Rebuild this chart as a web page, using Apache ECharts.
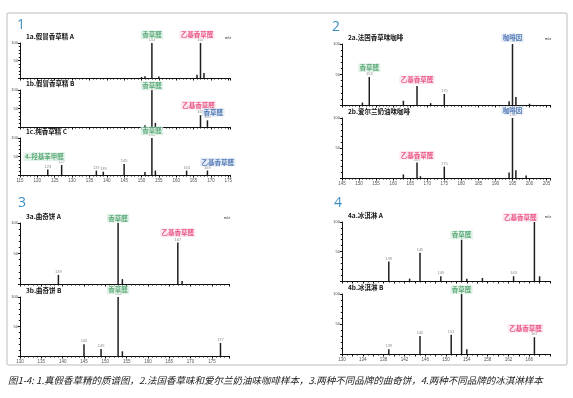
<!DOCTYPE html>
<html>
<head>
<meta charset="utf-8">
<script src="https://cdn.jsdelivr.net/npm/echarts@6/dist/echarts.min.js"></script>
<style>
  html, body { margin: 0; background: #fff; }
  #main { width: 573px; height: 398px; }
</style>
</head>
<body>
<div id="main"></div>
<script>
  // 峰：[m/z, 相对丰度 %]
  var spec1a = [[150, 3], [151, 5], [153, 100], [155, 4], [166, 9], [167, 100], [168, 14]];
  var spec1b = [[151, 5], [153, 100], [154, 11], [167, 32], [169, 18]];
  var spec1c = [[123, 15], [127, 27], [137, 12], [139, 9], [145, 30], [151, 8], [153, 100], [154, 12], [163, 12], [169, 12]];
  var spec2a = [[151, 4], [153, 46], [163, 7], [167, 31], [171, 3], [175, 18], [194, 6], [195, 100], [196, 13], [200, 2]];
  var spec2b = [[163, 6], [167, 26], [168, 3], [175, 19], [194, 9], [195, 100], [196, 13], [199, 4]];
  var spec3a = [[139, 15], [153, 100], [154, 8], [167, 68], [168, 5]];
  var spec3b = [[145, 20], [149, 12], [153, 100], [154, 8], [177, 22]];
  var spec4a = [[139, 33], [143, 4], [145, 48], [149, 8], [153, 70], [154, 4], [157, 5], [163, 8], [167, 100], [168, 8]];
  var spec4b = [[139, 8], [145, 30], [151, 32], [153, 100], [154, 8], [167, 28]];

  // 标出 m/z 数值的峰
  var tags1a = [153, 167];
  var tags1b = [153, 167, 169];
  var tags1c = [123, 127, 137, 139, 145, 153, 163, 169];
  var tags2a = [153, 167, 175, 195];
  var tags2b = [167, 175, 195];
  var tags3a = [139, 153, 167];
  var tags3b = [145, 149, 153, 177];
  var tags4a = [139, 145, 149, 153, 163, 167];
  var tags4b = [139, 145, 151, 153, 167];

  // 化合物标注：[名称, m/z, 高度, 颜色类别]
  var notes1a = [['香草醛', 153, 123, 'g'], ['乙基香草醛', 166, 123, 'p']];
  var notes1b = [['香草醛', 153, 111, 'g'], ['乙基香草醛', 166.4, 59, 'p'], ['香草醛', 170.7, 40, 'b']];
  var notes1c = [['香草醛', 153, 119, 'g'], ['4-羟基苯甲醛', 122, 49, 'g'], ['乙基香草醛', 172, 35, 'b']];
  var notes2a = [['咖啡因', 195, 110, 'b'], ['香草醛', 153, 61, 'g'], ['乙基香草醛', 167, 41, 'p']];
  var notes2b = [['咖啡因', 195, 113, 'b'], ['乙基香草醛', 167, 38, 'p']];
  var notes3a = [['香草醛', 153, 108, 'g'], ['乙基香草醛', 167, 84, 'p']];
  var notes3b = [['香草醛', 153, 112, 'g']];
  var notes4a = [['乙基香草醛', 164.3, 108, 'p'], ['香草醛', 153, 78, 'g']];
  var notes4b = [['香草醛', 153, 107, 'g'], ['乙基香草醛', 165.3, 43, 'p']];

  var titles = ['1a.假冒香草精 A', '1b.假冒香草精 B', '1c.纯香草精 C', '2a.法国香草味咖啡', '2b.爱尔兰奶油味咖啡',
                '3a.曲奇饼 A', '3b.曲奇饼 B', '4a.冰淇淋 A', '4b.冰淇淋 B'];
  var caption = '图1-4: 1.真假香草精的质谱图，2.法国香草味和爱尔兰奶油味咖啡样本，3.两种不同品牌的曲奇饼，4.两种不同品牌的冰淇淋样本';

  var noteColors = {
    g: ['#3b9a5e', '#dcefe2'],
    p: ['#e6336c', '#fbe4eb'],
    b: ['#2f5fa6', '#dfe7f4']
  };

  // 子图布局：left, top, width, height, x 范围
  var plots = [
    {spec: spec1a, tags: tags1a, notes: notes1a, box: [20, 43, 210, 35], x: [115, 175.5, 5], lab: false, first: true},
    {spec: spec1b, tags: tags1b, notes: notes1b, box: [20, 90, 210, 37], x: [115, 175.5, 5], lab: false},
    {spec: spec1c, tags: tags1c, notes: notes1c, box: [20, 138, 210, 37], x: [115, 175.5, 5], lab: true},
    {spec: spec2a, tags: tags2a, notes: notes2a, box: [342, 44, 208, 61], x: [145, 206, 5], lab: false, first: true},
    {spec: spec2b, tags: tags2b, notes: notes2b, box: [342, 118, 208, 60], x: [145, 206, 5], lab: true},
    {spec: spec3a, tags: tags3a, notes: notes3a, box: [20, 223, 209, 61], x: [130, 179, 5], lab: false, first: true},
    {spec: spec3b, tags: tags3b, notes: notes3b, box: [20, 297, 209, 59], x: [130, 179, 5], lab: true},
    {spec: spec4a, tags: tags4a, notes: notes4a, box: [342, 222, 208, 59], x: [130, 170, 2], lab: false, first: true},
    {spec: spec4b, tags: tags4b, notes: notes4b, box: [342, 294, 208, 60], x: [130, 170, 2], lab: true}
  ];

  var myChart = echarts.init(document.getElementById('main'));
  var font = '"Noto Sans CJK SC", "Noto Sans", sans-serif';

  var grid = [], xAxis = [], yAxis = [], series = [];
  var graphic = [
    {type: 'rect', shape: {x: 7, y: 13, width: 560, height: 352, r: 2},
     style: {fill: 'none', stroke: '#d2d2d2', lineWidth: 1.5}},
    {type: 'text', left: 8, top: 376,
     style: {text: caption, font: 'italic 9.5px ' + font, fill: '#222'}}
  ];
  var panelNums = [['1', 17, 18], ['2', 332, 20], ['3', 18, 196], ['4', 334, 196]];
  panelNums.forEach(function (p) {
    graphic.push({type: 'text', x: p[1], y: p[2],
      style: {text: p[0], font: '14px "Open Sans", sans-serif', fill: '#3d8fc6'}});
  });

  plots.forEach(function (p, i) {
    var b = p.box;
    grid.push({left: b[0], top: b[1], width: b[2], height: b[3], containLabel: false});
    var step = p.x[2];
    xAxis.push({
      type: 'value', gridIndex: i, min: p.x[0], max: p.x[1], interval: step,
      axisLine: {lineStyle: {color: '#111', width: 1}},
      axisTick: {show: true, length: 2.5, lineStyle: {color: '#111'}},
      minorTick: {show: true, splitNumber: step, length: 1.5, lineStyle: {color: '#111'}},
      splitLine: {show: false},
      axisLabel: {
        show: p.lab, fontSize: 4.5, color: '#555', margin: 3, showMaxLabel: false,
        formatter: function (v) {
          if (step === 2 && (v - p.x[0]) % 4 !== 0) return '';
          return v;
        }
      }
    });
    yAxis.push({
      type: 'value', gridIndex: i, min: 0, max: 100, interval: 50,
      axisLine: {show: true, lineStyle: {color: '#111', width: 1}},
      axisTick: {show: true, length: 2, lineStyle: {color: '#111'}},
      minorTick: {show: true, splitNumber: 5, length: 1.2, lineStyle: {color: '#111'}},
      splitLine: {show: false},
      axisLabel: {fontSize: 4, color: '#444', margin: 2, showMinLabel: false}
    });
    series.push({
      type: 'bar', xAxisIndex: i, yAxisIndex: i, data: p.spec,
      barWidth: 1.5, itemStyle: {color: '#1e1e1e'},
      label: {
        show: true, position: 'top', distance: 1, fontSize: 4, color: '#888',
        formatter: function (params) {
          return p.tags.indexOf(params.value[0]) >= 0 ? String(params.value[0]) : '';
        }
      },
      silent: true
    });
    series.push({
      type: 'scatter', xAxisIndex: i, yAxisIndex: i, symbolSize: 0, clip: false,
      data: p.notes.map(function (n) {
        var c = noteColors[n[3]];
        return {
          value: [n[1], n[2]],
          label: {
            show: true, position: 'inside', formatter: n[0],
            fontSize: 6.5, fontWeight: 'bold', fontFamily: font,
            color: c[0], backgroundColor: c[1], padding: [1, 1.5]
          }
        };
      }),
      silent: true
    });
    graphic.push({type: 'text', x: b[0] + 6, y: b[1] - 6,
      style: {text: titles[i], font: 'bold 6.5px ' + font, fill: '#111', textVerticalAlign: 'middle'}});
    if (p.first) {
      graphic.push({type: 'text', x: b[0] + b[2] - 2, y: b[1] - 5,
        style: {text: 'm/z', font: '4px sans-serif', fill: '#333', textAlign: 'center', textVerticalAlign: 'middle'}});
    }
  });

  myChart.setOption({
    animation: false,
    backgroundColor: '#fff',
    grid: grid,
    xAxis: xAxis,
    yAxis: yAxis,
    series: series,
    graphic: graphic
  });
</script>
</body>
</html>
